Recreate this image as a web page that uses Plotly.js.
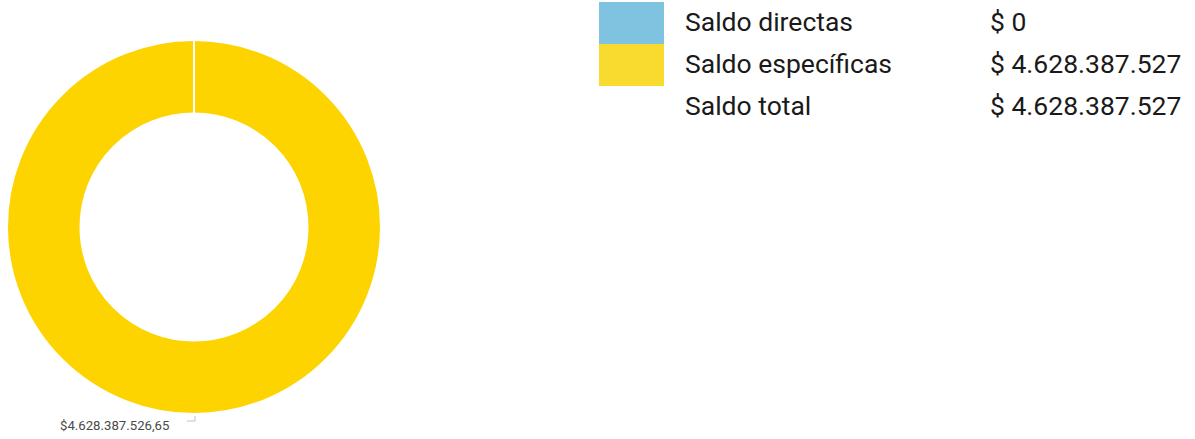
<!DOCTYPE html>
<html>
<head>
<meta charset="utf-8">
<script src="https://cdn.plot.ly/plotly-3.0.1.min.js"></script>
<style>html,body{margin:0;padding:0;background:#fff;}#chart{width:1195px;height:439px;}</style>
</head>
<body>
<div id="chart"></div>
<script>
var categories = ["Saldo directas", "Saldo específicas"];
var values = [0, 4628387526.65];
var colors = ["#7fc3e0", "#fdd300"];
var swatchColors = ["#7fc3e0", "#f9da2f"];
var legendLabels = ["Saldo directas", "Saldo específicas", "Saldo total"];
var legendValues = ["$ 0", "$ 4.628.387.527", "$ 4.628.387.527"];
var sliceLabel = "$4.628.387.526,65";

var W = 1195, H = 439;
function px(x){ return x / W; }
function py(y){ return 1 - y / H; }

var trace = {
  type: "pie",
  labels: categories,
  values: values,
  hole: 0.607,
  sort: false,
  direction: "clockwise",
  rotation: 0,
  textinfo: "none",
  hoverinfo: "label+value",
  marker: { colors: colors, line: { color: "#ffffff", width: 2 } },
  domain: { x: [px(7), px(381)], y: [py(414), py(40)] },
  showlegend: false
};

var annotations = [];
var shapes = [];
var rowY = [22, 64, 106];
for (var i = 0; i < legendLabels.length; i++) {
  annotations.push({
    xref: "paper", yref: "paper", x: px(683), y: py(rowY[i]),
    xanchor: "left", yanchor: "middle", showarrow: false,
    text: legendLabels[i], font: { family: "Roboto", size: 26.5, color: "#1a1a1a" }
  });
  annotations.push({
    xref: "paper", yref: "paper", x: px(988), y: py(rowY[i]),
    xanchor: "left", yanchor: "middle", showarrow: false,
    text: legendValues[i], font: { family: "Roboto", size: 26.5, color: "#1a1a1a" }
  });
}
for (var j = 0; j < swatchColors.length; j++) {
  shapes.push({
    type: "rect", xref: "paper", yref: "paper",
    x0: px(599), x1: px(664), y0: py(2 + 42 * j), y1: py(44 + 42 * j),
    fillcolor: swatchColors[j], line: { width: 0 }
  });
}
// slice boundary at the start angle (zero-value slice edge)
shapes.push({
  type: "line", xref: "paper", yref: "paper",
  x0: px(194), x1: px(194), y0: py(39), y1: py(155),
  line: { color: "#ffffff", width: 2 }
});
annotations.push({
  xref: "paper", yref: "paper", x: px(58), y: py(425),
  xanchor: "left", yanchor: "middle", showarrow: false,
  text: sliceLabel, font: { family: "Roboto", size: 13.2, color: "#4a4a4a" }
});
shapes.push({
  type: "path", xref: "paper", yref: "paper",
  path: "M " + px(187) + " " + py(421) + " L " + px(195) + " " + py(421) + " L " + px(195) + " " + py(416),
  line: { color: "#c0c0c0", width: 1 }
});

var layout = {
  width: W, height: H,
  margin: { l: 0, r: 0, t: 0, b: 0 },
  paper_bgcolor: "#ffffff",
  showlegend: false,
  annotations: annotations,
  shapes: shapes
};

Plotly.newPlot("chart", [trace], layout, { displayModeBar: false, staticPlot: true });
</script>
</body>
</html>
